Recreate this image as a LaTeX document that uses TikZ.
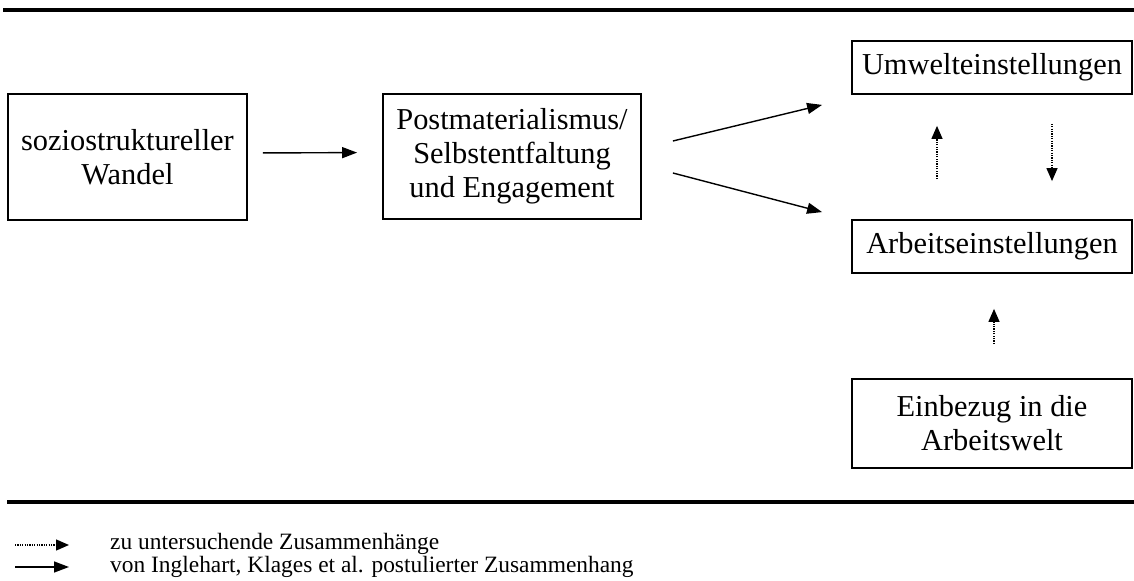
\documentclass[tikz,border=0pt]{standalone}
\usepackage{fontspec}
\setmainfont{Liberation Serif}
\usetikzlibrary{arrows.meta}
\tikzset{
  box/.style={draw, line width=1.8bp, align=center, inner sep=0pt,
    font=\fontsize{30.5}{34}\selectfont},
  solidarr/.style={line width=1.4bp, -{Triangle[length=15bp,width=11bp]}},
  dotarr/.style={line width=1.3bp, dash pattern=on 1.2bp off 1.2bp, -{Triangle[length=13bp,width=11bp,sep=0pt]}},
  legtext/.style={anchor=west, inner sep=0pt, font=\fontsize{23.5}{26}\selectfont},
  rulebar/.style={line width=3.5bp}
}
\begin{document}
\begin{tikzpicture}[x=1bp,y=-1bp]
\useasboundingbox (0,0) rectangle (1134,581);
% rules
\coordinate (r1a) at (3,10);
\coordinate (r1b) at (1134,10);
\coordinate (r2a) at (7,502);
\coordinate (r2b) at (1134,502);
\draw[rulebar] (r1a) -- (r1b);
\draw[rulebar] (r2a) -- (r2b);
% boxes
\node[box, minimum width=239bp, minimum height=126bp] (b1) at (127.5,157) {soziostruktureller\\Wandel};
\node[box, minimum width=258bp, minimum height=125bp] (b2) at (512,156.5) {Postmaterialismus/\\Selbstentfaltung\\und Engagement};
\node[box, minimum width=280bp, minimum height=53bp] (umw) at (992,67.5) {Umwelteinstellungen};
\node[box, minimum width=280bp, minimum height=53bp] (arb) at (992,246.5) {Arbeitseinstellungen};
\node[box, minimum width=280bp, minimum height=89bp] (ein) at (992,423.5) {Einbezug in die\\Arbeitswelt};
% solid arrows
\draw[solidarr, shorten <=15bp, shorten >=25bp] ([yshift=4bp]b1.east) -- ([yshift=4bp]b2.west);
\draw[solidarr] ([xshift=31bp,yshift=15.5bp]b2.east) -- ([xshift=-29bp,yshift=-10bp]umw.south west);
\draw[solidarr] ([xshift=31bp,yshift=-16.5bp]b2.east) -- ([xshift=-29bp,yshift=7bp]arb.north west);
% dotted arrows
\draw[dotarr] ([xshift=-55bp,yshift=40bp]arb.north) -- ([xshift=-55bp,yshift=-31bp]umw.south);
\draw[dotarr] ([xshift=60bp,yshift=-29bp]umw.south) -- ([xshift=60bp,yshift=38bp]arb.north);
\draw[dotarr] ([xshift=2bp,yshift=34bp]ein.north) -- ([xshift=2bp,yshift=-35bp]arb.south);
% legend
\coordinate (l1a) at (15,545);
\coordinate (l1b) at (69,545);
\coordinate (l2a) at (15,567);
\coordinate (l2b) at (69,567);
\draw[dotarr] (l1a) -- (l1b);
\draw[solidarr] (l2a) -- (l2b);
\node[legtext] (t1) at (110,544) {zu untersuchende Zusammenhänge};
\node[legtext] (t2) at (110,567) {von Inglehart, Klages et al. postulierter Zusammenhang};
\end{tikzpicture}
\end{document}
